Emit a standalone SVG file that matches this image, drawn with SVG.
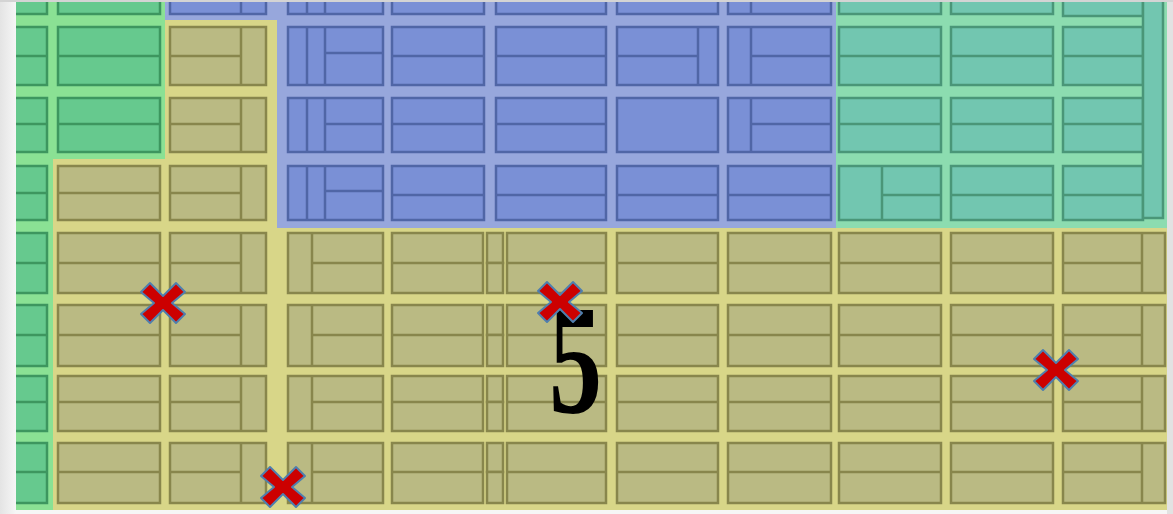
<svg xmlns="http://www.w3.org/2000/svg" width="1173" height="514" viewBox="0 0 1173 514">
<style>
.g{fill:#66c98e;stroke:#3d965f;stroke-width:2.5}
.y{fill:#baba83;stroke:#88864c;stroke-width:2.5}
.b{fill:#7a90d6;stroke:#5066a6;stroke-width:2.5}
.t{fill:#72c6b0;stroke:#4a9678;stroke-width:2.5}
.gl{fill:none;stroke:#3d965f;stroke-width:2.5}
.yl{fill:none;stroke:#88864c;stroke-width:2.5}
.bl{fill:none;stroke:#5066a6;stroke-width:2.5}
.tl{fill:none;stroke:#4a9678;stroke-width:2.5}
.x{fill:#cc0000;stroke:#4f7fae;stroke-width:2;stroke-linejoin:round}
</style>
<defs>
<linearGradient id="lm" x1="0" y1="0" x2="1" y2="0">
<stop offset="0" stop-color="#e4e4e4"/>
<stop offset="1" stop-color="#f6f6f6"/>
</linearGradient>
<polygon id="xm" class="x" points="-22,-11 -13,-20 0,-7 13,-20 22,-11 9,0 22,11 13,20 0,7 -13,20 -22,11 -9,0"/>
</defs>
<rect x="0" y="0" width="1173" height="514" fill="#f4f4f4"/>
<g id="zones">
<rect x="16" y="0" width="1151" height="510" fill="#d8d688"/>
<polygon points="16,0 165,0 165,159 53,159 53,510 16,510" fill="#8ae194"/>
<polygon points="165,0 836,0 836,228 277,228 277,20 165,20" fill="#97a7dc"/>
<rect x="836" y="0" width="331" height="228" fill="#8cdcb0"/>
</g>
<g id="green-blocks">
<rect class="g" x="10" y="-10" width="37" height="24"/>
<rect class="g" x="10" y="27" width="37" height="58"/>
<rect class="g" x="10" y="98" width="37" height="54"/>
<rect class="g" x="10" y="166" width="37" height="54"/>
<rect class="g" x="10" y="233" width="37" height="60"/>
<rect class="g" x="10" y="305" width="37" height="61"/>
<rect class="g" x="10" y="376" width="37" height="55"/>
<rect class="g" x="10" y="443" width="37" height="60"/>
<path class="gl" d="M10 56H47M10 124H47M10 193H47M10 263H47M10 335H47M10 402H47M10 472H47"/>
<rect class="g" x="58" y="-10" width="102" height="24"/>
<rect class="g" x="58" y="27" width="102" height="58"/>
<rect class="g" x="58" y="98" width="102" height="54"/>
<path class="gl" d="M58 56H160M58 124H160"/>
</g>
<g id="yellow-blocks">
<rect class="y" x="58" y="166" width="102" height="54"/>
<rect class="y" x="58" y="233" width="102" height="60"/>
<rect class="y" x="58" y="305" width="102" height="61"/>
<rect class="y" x="58" y="376" width="102" height="55"/>
<rect class="y" x="58" y="443" width="102" height="60"/>
<path class="yl" d="M58 193H160M58 263H160M58 335H160M58 402H160M58 472H160"/>
<rect class="y" x="170" y="27" width="96" height="58"/>
<rect class="y" x="170" y="98" width="96" height="54"/>
<rect class="y" x="170" y="166" width="96" height="54"/>
<rect class="y" x="170" y="233" width="96" height="60"/>
<rect class="y" x="170" y="305" width="96" height="61"/>
<rect class="y" x="170" y="376" width="96" height="55"/>
<rect class="y" x="170" y="443" width="96" height="60"/>
<path class="yl" d="M241 27V85M241 98V152M241 166V220M241 233V293M241 305V366M241 376V431M241 443V503M170 56H241M170 124H241M170 193H241M170 263H241M170 335H241M170 402H241M170 472H241"/>
<rect class="y" x="288" y="233" width="95" height="60"/>
<rect class="y" x="288" y="305" width="95" height="61"/>
<rect class="y" x="288" y="376" width="95" height="55"/>
<rect class="y" x="288" y="443" width="95" height="60"/>
<path class="yl" d="M312 233V293M312 305V366M312 376V431M312 443V503M312 263H383M312 335H383M312 402H383M312 472H383"/>
<rect class="y" x="392" y="233" width="91" height="60"/>
<rect class="y" x="392" y="305" width="91" height="61"/>
<rect class="y" x="392" y="376" width="91" height="55"/>
<rect class="y" x="392" y="443" width="91" height="60"/>
<path class="yl" d="M392 263H483M392 335H483M392 402H483M392 472H483"/>
<rect class="y" x="487" y="233" width="16" height="30"/>
<rect class="y" x="487" y="263" width="16" height="30"/>
<rect class="y" x="487" y="305" width="16" height="30"/>
<rect class="y" x="487" y="335" width="16" height="31"/>
<rect class="y" x="487" y="376" width="16" height="26"/>
<rect class="y" x="487" y="402" width="16" height="29"/>
<rect class="y" x="487" y="443" width="16" height="29"/>
<rect class="y" x="487" y="472" width="16" height="31"/>
<rect class="y" x="507" y="233" width="99" height="60"/>
<rect class="y" x="507" y="305" width="99" height="61"/>
<rect class="y" x="507" y="376" width="99" height="55"/>
<rect class="y" x="507" y="443" width="99" height="60"/>
<path class="yl" d="M507 263H606M507 335H606M507 402H606M507 472H606"/>
<rect class="y" x="617" y="233" width="101" height="60"/>
<rect class="y" x="617" y="305" width="101" height="61"/>
<rect class="y" x="617" y="376" width="101" height="55"/>
<rect class="y" x="617" y="443" width="101" height="60"/>
<path class="yl" d="M617 263H718M617 335H718M617 402H718M617 472H718"/>
<rect class="y" x="728" y="233" width="103" height="60"/>
<rect class="y" x="728" y="305" width="103" height="61"/>
<rect class="y" x="728" y="376" width="103" height="55"/>
<rect class="y" x="728" y="443" width="103" height="60"/>
<path class="yl" d="M728 263H831M728 335H831M728 402H831M728 472H831"/>
<rect class="y" x="839" y="233" width="102" height="60"/>
<rect class="y" x="839" y="305" width="102" height="61"/>
<rect class="y" x="839" y="376" width="102" height="55"/>
<rect class="y" x="839" y="443" width="102" height="60"/>
<path class="yl" d="M839 263H941M839 335H941M839 402H941M839 472H941"/>
<rect class="y" x="951" y="233" width="102" height="60"/>
<rect class="y" x="951" y="305" width="102" height="61"/>
<rect class="y" x="951" y="376" width="102" height="55"/>
<rect class="y" x="951" y="443" width="102" height="60"/>
<path class="yl" d="M951 263H1053M951 335H1053M951 402H1053M951 472H1053"/>
<rect class="y" x="1063" y="233" width="102" height="60"/>
<rect class="y" x="1063" y="305" width="102" height="61"/>
<rect class="y" x="1063" y="376" width="102" height="55"/>
<rect class="y" x="1063" y="443" width="102" height="60"/>
<path class="yl" d="M1142 233V293M1142 305V366M1142 376V431M1142 443V503M1063 263H1142M1063 335H1142M1063 402H1142M1063 472H1142"/>
</g>
<g id="blue-blocks">
<rect class="b" x="170" y="-10" width="96" height="24"/>
<path class="bl" d="M241 -10V14"/>
<rect class="b" x="288" y="-10" width="95" height="24"/>
<rect class="b" x="288" y="27" width="95" height="58"/>
<rect class="b" x="288" y="98" width="95" height="54"/>
<rect class="b" x="288" y="166" width="95" height="54"/>
<path class="bl" d="M307 -10V14M325 -10V14M307 27V85M325 27V85M307 98V152M325 98V152M307 166V220M325 166V220M325 53H383M325 124H383M325 191H383"/>
<rect class="b" x="392" y="-10" width="92" height="24"/>
<rect class="b" x="392" y="27" width="92" height="58"/>
<rect class="b" x="392" y="98" width="92" height="54"/>
<rect class="b" x="392" y="166" width="92" height="54"/>
<path class="bl" d="M392 56H484M392 124H484M392 195H484"/>
<rect class="b" x="496" y="-10" width="110" height="24"/>
<rect class="b" x="496" y="27" width="110" height="58"/>
<rect class="b" x="496" y="98" width="110" height="54"/>
<rect class="b" x="496" y="166" width="110" height="54"/>
<path class="bl" d="M496 56H606M496 124H606M496 195H606"/>
<rect class="b" x="617" y="-10" width="101" height="24"/>
<rect class="b" x="617" y="27" width="101" height="58"/>
<rect class="b" x="617" y="98" width="101" height="54"/>
<rect class="b" x="617" y="166" width="101" height="54"/>
<path class="bl" d="M698 27V85M617 56H698M617 195H718"/>
<rect class="b" x="728" y="-10" width="103" height="24"/>
<rect class="b" x="728" y="27" width="103" height="58"/>
<rect class="b" x="728" y="98" width="103" height="54"/>
<rect class="b" x="728" y="166" width="103" height="54"/>
<path class="bl" d="M751 -10V14M751 27V85M751 98V152M751 56H831M751 124H831M728 195H831"/>
</g>
<g id="teal-blocks">
<rect class="t" x="839" y="-10" width="102" height="24"/>
<rect class="t" x="839" y="27" width="102" height="58"/>
<rect class="t" x="839" y="98" width="102" height="54"/>
<rect class="t" x="839" y="166" width="102" height="54"/>
<path class="tl" d="M839 56H941M839 124H941M882 166V220M882 195H941"/>
<rect class="t" x="951" y="-10" width="102" height="24"/>
<rect class="t" x="951" y="27" width="102" height="58"/>
<rect class="t" x="951" y="98" width="102" height="54"/>
<rect class="t" x="951" y="166" width="102" height="54"/>
<path class="tl" d="M951 56H1053M951 124H1053M951 195H1053"/>
<rect class="t" x="1063" y="-10" width="80" height="26"/>
<rect class="t" x="1063" y="27" width="80" height="58"/>
<rect class="t" x="1063" y="98" width="80" height="54"/>
<rect class="t" x="1063" y="166" width="80" height="54"/>
<path class="tl" d="M1063 56H1143M1063 124H1143M1063 195H1143"/>
<rect class="t" x="1143" y="-10" width="20" height="228"/>
</g>
<g id="margins">
<rect x="0" y="0" width="16" height="514" fill="url(#lm)"/>
<rect x="1167" y="0" width="6" height="514" fill="#e2e2e2"/>
<rect x="0" y="0" width="1173" height="2" fill="#d4d4d4"/>
<rect x="16" y="510" width="1151" height="4" fill="#f6f6f6"/>
</g>
<g id="label">
<text transform="translate(549,412) scale(0.68,1)" x="0" y="0" font-family="'Liberation Serif', serif" font-weight="bold" font-size="156" fill="#000">5</text>
</g>
<g id="markers">
<use href="#xm" x="163" y="303"/>
<use href="#xm" x="560" y="302"/>
<use href="#xm" x="1056" y="370"/>
<use href="#xm" x="283" y="487"/>
</g>
</svg>
